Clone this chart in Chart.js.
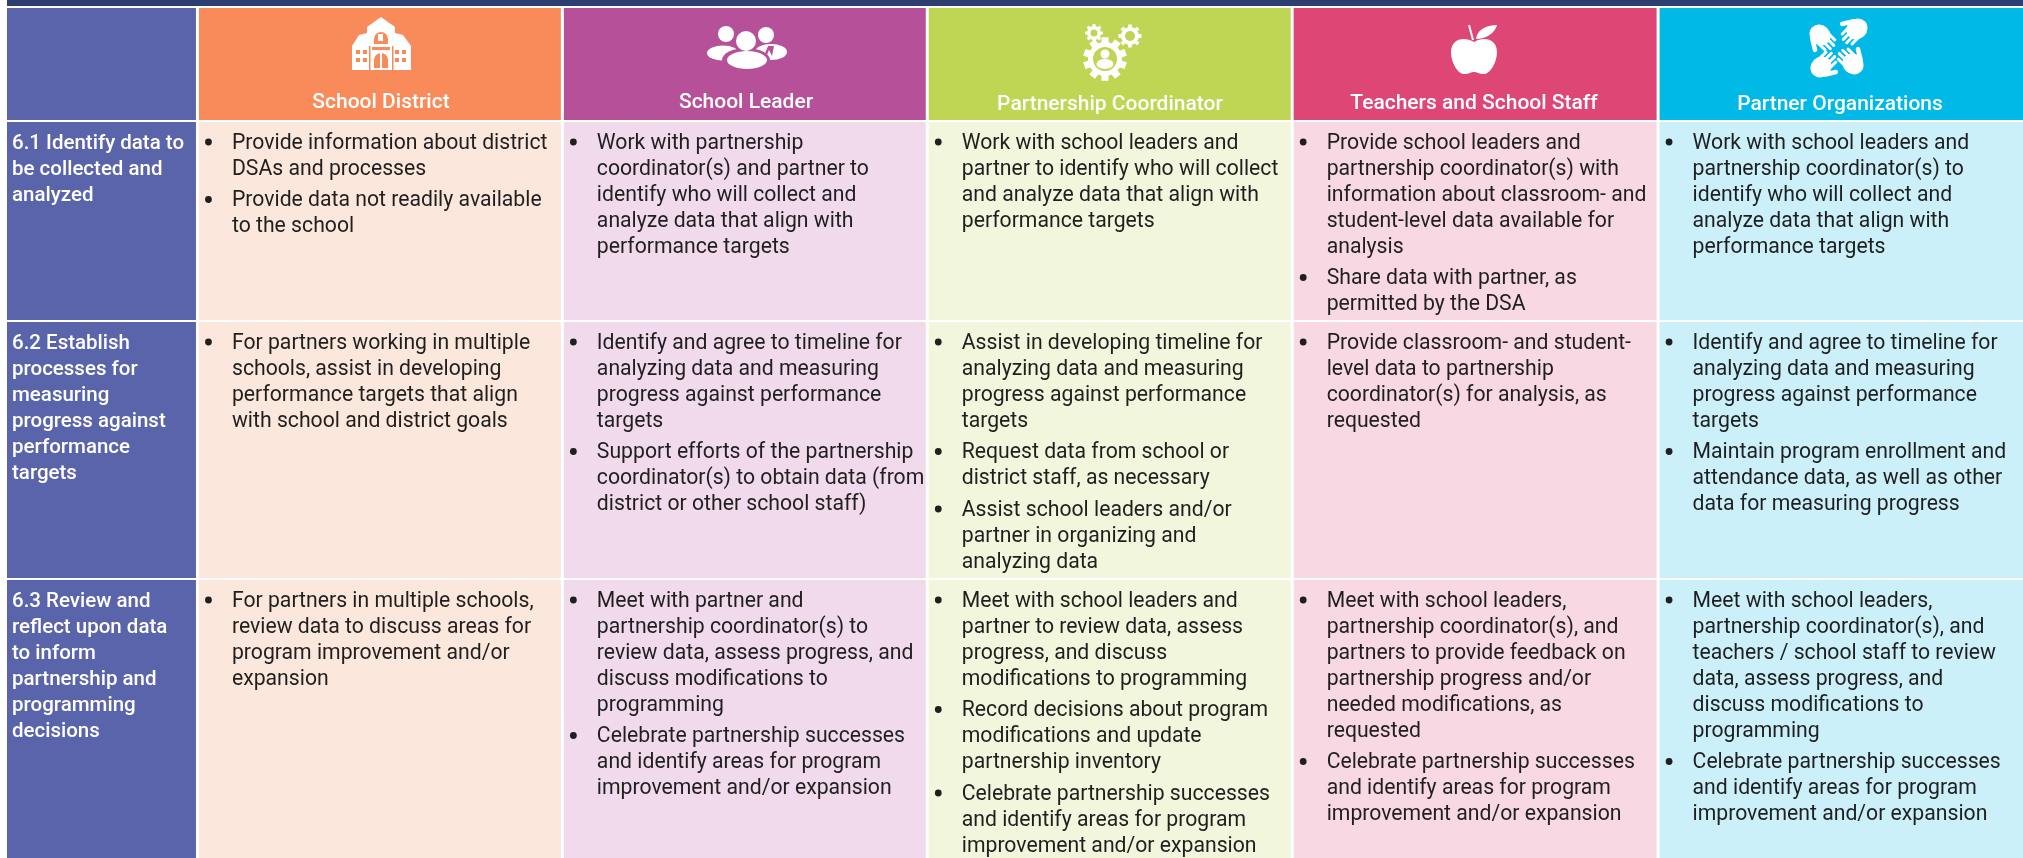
<!DOCTYPE html>
<html>
<head>
<meta charset="utf-8">
<title>Partnership roles</title>
<script src="https://cdn.jsdelivr.net/npm/chart.js@4"></script>
<style>
  html, body { margin: 0; padding: 0; background: #fff; }
  canvas { display: block; }
</style>
</head>
<body>
<canvas id="table-chart" width="2023" height="858"></canvas>
<script>
const columnNames = ['', 'School District', 'School Leader', 'Partnership Coordinator', 'Teachers and School Staff', 'Partner Organizations'];
const columnWidths = [192, 365, 365, 365, 366, 365];
const rowNames = ['band', 'header', '6.1', '6.2', '6.3'];
const rowHeights = [7, 114, 200, 258, 279];

const bandColor = '#2d3f70';
const headerColors = ['#5964aa', '#f98b5a', '#b55099', '#bed654', '#dd4675', '#00b9e6'];
const bodyColors = ['#5964aa', '#fce7dc', '#f0daeb', '#f2f6dc', '#f7d8e3', '#cbf0fa'];

const rowLabels = [
  ['6.1 Identify data to', 'be collected and', 'analyzed'],
  ['6.2 Establish', 'processes for', 'measuring', 'progress against', 'performance', 'targets'],
  ['6.3 Review and', 'reflect upon data', 'to inform', 'partnership and', 'programming', 'decisions'],
];

const row61 = [
  [['Provide information about district', 'DSAs and processes'], ['Provide data not readily available', 'to the school']],
  [['Work with partnership', 'coordinator(s) and partner to', 'identify who will collect and', 'analyze data that align with', 'performance targets']],
  [['Work with school leaders and', 'partner to identify who will collect', 'and analyze data that align with', 'performance targets']],
  [['Provide school leaders and', 'partnership coordinator(s) with', 'information about classroom- and', 'student-level data available for', 'analysis'], ['Share data with partner, as', 'permitted by the DSA']],
  [['Work with school leaders and', 'partnership coordinator(s) to', 'identify who will collect and', 'analyze data that align with', 'performance targets']],
];
const row62 = [
  [['For partners working in multiple', 'schools, assist in developing', 'performance targets that align', 'with school and district goals']],
  [['Identify and agree to timeline for', 'analyzing data and measuring', 'progress against performance', 'targets'], ['Support efforts of the partnership', 'coordinator(s) to obtain data (from', 'district or other school staff)']],
  [['Assist in developing timeline for', 'analyzing data and measuring', 'progress against performance', 'targets'], ['Request data from school or', 'district staff, as necessary'], ['Assist school leaders and/or', 'partner in organizing and', 'analyzing data']],
  [['Provide classroom- and student-', 'level data to partnership', 'coordinator(s) for analysis, as', 'requested']],
  [['Identify and agree to timeline for', 'analyzing data and measuring', 'progress against performance', 'targets'], ['Maintain program enrollment and', 'attendance data, as well as other', 'data for measuring progress']],
];
const row63 = [
  [['For partners in multiple schools,', 'review data to discuss areas for', 'program improvement and/or', 'expansion']],
  [['Meet with partner and', 'partnership coordinator(s) to', 'review data, assess progress, and', 'discuss modifications to', 'programming'], ['Celebrate partnership successes', 'and identify areas for program', 'improvement and/or expansion']],
  [['Meet with school leaders and', 'partner to review data, assess', 'progress, and discuss', 'modifications to programming'], ['Record decisions about program', 'modifications and update', 'partnership inventory'], ['Celebrate partnership successes', 'and identify areas for program', 'improvement and/or expansion']],
  [['Meet with school leaders,', 'partnership coordinator(s), and', 'partners to provide feedback on', 'partnership progress and/or', 'needed modifications, as', 'requested'], ['Celebrate partnership successes', 'and identify areas for program', 'improvement and/or expansion']],
  [['Meet with school leaders,', 'partnership coordinator(s), and', 'teachers / school staff to review', 'data, assess progress, and', 'discuss modifications to', 'programming'], ['Celebrate partnership successes', 'and identify areas for program', 'improvement and/or expansion']],
];
const bodyRows = [row61, row62, row63];

const sum = arr => arr.reduce((a, b) => a + b, 0);
const edges = arr => arr.reduce((acc, v) => [...acc, acc[acc.length - 1] + v], [0]);
const colEdges = edges(columnWidths);
const rowEdges = edges(rowHeights);

// --- Icons, drawn around the middle of each header cell ---
function circle(ctx, x, y, r) {
  ctx.beginPath();
  ctx.arc(x, y, r, 0, Math.PI * 2);
  ctx.fill();
}

function blob(ctx, x, y, rx, ry) {
  ctx.beginPath();
  ctx.ellipse(x, y, rx, ry, 0, 0, Math.PI * 2);
  ctx.fill();
}

function schoolIcon(ctx, cx, bg) {
  ctx.fillStyle = '#fff';
  ctx.beginPath();
  ctx.moveTo(cx, 17);
  ctx.lineTo(cx + 14, 27);
  ctx.lineTo(cx + 14, 33);
  ctx.lineTo(cx + 22, 35);
  ctx.lineTo(cx + 30, 46);
  ctx.lineTo(cx + 30, 70);
  ctx.lineTo(cx - 29, 70);
  ctx.lineTo(cx - 29, 46);
  ctx.lineTo(cx - 22, 35);
  ctx.lineTo(cx - 14, 33);
  ctx.lineTo(cx - 14, 27);
  ctx.closePath();
  ctx.fill();
  ctx.fillStyle = bg;
  // tower window, band, door and wing gaps
  ctx.beginPath();
  ctx.arc(cx, 39, 7, Math.PI, 0);
  ctx.lineTo(cx + 7, 44);
  ctx.lineTo(cx - 7, 44);
  ctx.closePath();
  ctx.fill();
  ctx.fillStyle = '#fff';
  ctx.fillRect(cx - 3, 34, 5, 7);
  ctx.fillStyle = bg;
  ctx.fillRect(cx - 9, 47, 18, 3);
  ctx.beginPath();
  ctx.arc(cx, 60, 7, Math.PI, 0);
  ctx.lineTo(cx + 7, 68);
  ctx.lineTo(cx - 7, 68);
  ctx.closePath();
  ctx.fill();
  ctx.fillStyle = '#fff';
  ctx.fillRect(cx - 1, 52, 2, 16);
  ctx.fillStyle = bg;
  ctx.fillRect(cx - 12, 46, 1.5, 24);
  ctx.fillRect(cx + 11, 46, 1.5, 24);
  for (const wx of [-25, -18, 14, 21]) {
    for (const wy of [50, 58]) ctx.fillRect(cx + wx, wy, 4, 4);
  }
}

function peopleIcon(ctx, cx, bg) {
  ctx.fillStyle = '#fff';
  circle(ctx, cx - 20, 34, 8);
  circle(ctx, cx + 20, 35, 8);
  blob(ctx, cx - 23, 53, 16, 7.5);
  blob(ctx, cx + 25, 52, 16, 8);
  ctx.fillStyle = bg;
  circle(ctx, cx, 41, 12.5);
  blob(ctx, cx, 60, 24, 12);
  ctx.fillStyle = '#fff';
  circle(ctx, cx, 41, 10);
  blob(ctx, cx + 1, 60, 20, 9);
  // tie on the right figure
  ctx.fillStyle = bg;
  ctx.beginPath();
  ctx.moveTo(cx + 22, 46);
  ctx.lineTo(cx + 18, 56);
  ctx.lineTo(cx + 21, 55);
  ctx.lineTo(cx + 23, 50);
  ctx.lineTo(cx + 26, 56);
  ctx.lineTo(cx + 28, 46);
  ctx.closePath();
  ctx.fill();
}

function gear(ctx, x, y, r, teeth, hole, bg) {
  ctx.fillStyle = '#fff';
  ctx.save();
  ctx.translate(x, y);
  for (let i = 0; i < teeth; i++) {
    ctx.save();
    ctx.rotate((i / teeth) * Math.PI * 2);
    const w = r * 0.42;
    ctx.fillRect(-w / 2, -r * 1.28, w, r * 0.5);
    ctx.restore();
  }
  ctx.restore();
  circle(ctx, x, y, r);
  ctx.fillStyle = bg;
  circle(ctx, x, y, hole);
}

function gearsIcon(ctx, cx, bg) {
  gear(ctx, cx - 16, 33, 7, 8, 3.5, bg);
  gear(ctx, cx + 20, 36, 9, 8, 5, bg);
  gear(ctx, cx - 5, 59, 17, 10, 12, bg);
  ctx.fillStyle = '#fff';
  circle(ctx, cx - 5, 54, 4.5);
  blob(ctx, cx - 5, 64, 8.5, 5);
}

function appleIcon(ctx, cx) {
  ctx.fillStyle = '#fff';
  ctx.beginPath();
  ctx.moveTo(cx, 42);
  ctx.bezierCurveTo(cx + 10, 36, cx + 23, 39, cx + 23, 52);
  ctx.bezierCurveTo(cx + 23, 62, cx + 16, 75, cx + 9, 74);
  ctx.bezierCurveTo(cx + 5, 74, cx + 3, 72, cx, 72);
  ctx.bezierCurveTo(cx - 3, 72, cx - 5, 74, cx - 9, 74);
  ctx.bezierCurveTo(cx - 16, 75, cx - 23, 62, cx - 23, 52);
  ctx.bezierCurveTo(cx - 23, 39, cx - 10, 36, cx, 42);
  ctx.closePath();
  ctx.fill();
  // leaf and stem
  ctx.beginPath();
  ctx.moveTo(cx + 2, 39);
  ctx.bezierCurveTo(cx + 3, 30, cx + 12, 25, cx + 23, 25);
  ctx.bezierCurveTo(cx + 21, 33, cx + 12, 39, cx + 2, 39);
  ctx.closePath();
  ctx.fill();
  ctx.strokeStyle = '#fff';
  ctx.lineWidth = 2;
  ctx.beginPath();
  ctx.moveTo(cx - 5, 25);
  ctx.lineTo(cx - 1, 40);
  ctx.stroke();
}

function hand(ctx, x, y, angle) {
  ctx.save();
  ctx.translate(x, y);
  ctx.rotate(angle);
  ctx.fillStyle = '#fff';
  ctx.strokeStyle = '#fff';
  ctx.lineCap = 'round';
  blob(ctx, 0, 0, 10, 11);
  ctx.lineWidth = 3;
  for (const [fx, len] of [[-7, 14], [-2.4, 17], [2.4, 17], [7, 14]]) {
    ctx.beginPath();
    ctx.moveTo(fx, 0);
    ctx.lineTo(fx, -len);
    ctx.stroke();
  }
  ctx.lineWidth = 4.5;
  ctx.beginPath();
  ctx.moveTo(8, 3);
  ctx.lineTo(14, -7);
  ctx.stroke();
  ctx.restore();
}

function handsIcon(ctx, cx) {
  hand(ctx, cx - 20, 35, Math.PI * 0.75);
  hand(ctx, cx + 17, 29, -Math.PI * 0.75);
  hand(ctx, cx - 19, 67, Math.PI * 0.25);
  hand(ctx, cx + 13, 64, -Math.PI * 0.25);
}

const iconDrawers = [null, schoolIcon, peopleIcon, gearsIcon, appleIcon, handsIcon];
const iconCenters = [0, 381, 746, 1110, 1474, 1840];
const headerBaselines = [0, 108, 108, 110, 109, 110];

// --- Text plugin ---
const bodyFont = '400 21.2px Roboto, sans-serif';
const labelFont = '500 20.5px Roboto, sans-serif';
const headerFont = '500 21px Roboto, sans-serif';
const lineStep = 26;
const paraGap = 5.5;

const tableText = {
  id: 'tableText',
  afterDatasetsDraw(chart) {
    const { ctx, scales: { x, y } } = chart;
    ctx.save();
    ctx.textBaseline = 'alphabetic';

    // header row
    columnNames.forEach((name, c) => {
      if (!name) return;
      iconDrawers[c](ctx, iconCenters[c], headerColors[c]);
      ctx.fillStyle = '#fff';
      ctx.font = headerFont;
      ctx.textAlign = 'center';
      ctx.fillText(name, iconCenters[c], headerBaselines[c]);
    });

    // body rows
    ctx.textAlign = 'left';
    bodyRows.forEach((cells, r) => {
      const top = y.getPixelForValue(rowEdges[r + 2]);
      const firstLine = top + 27.5;

      ctx.font = labelFont;
      ctx.fillStyle = '#fff';
      rowLabels[r].forEach((line, i) => {
        ctx.fillText(line, x.getPixelForValue(colEdges[0]) + 6.5, firstLine + i * lineStep);
      });

      cells.forEach((bullets, c) => {
        const left = x.getPixelForValue(colEdges[c + 1]);
        let yy = firstLine;
        ctx.font = bodyFont;
        ctx.fillStyle = '#1f1f1f';
        bullets.forEach(lines => {
          circle(ctx, left + 11, yy - 6.5, 3.4);
          lines.forEach(line => {
            ctx.fillText(line, left + 34.5, yy);
            yy += lineStep;
          });
          yy += paraGap;
        });
      });
    });
    ctx.restore();
  },
};

// --- Cells: one dataset per row, one floating bar per column ---
const cellBorder = (r, c) => {
  if (r === 0) return { top: 0, bottom: 1, left: 1.5, right: 0 };
  return {
    top: 1,
    bottom: r === rowNames.length - 1 ? 0 : 1,
    left: 1.5,
    right: c === columnNames.length - 1 ? 0 : 1.5,
  };
};

const rowCenter = r => rowEdges[r] + rowHeights[r] / 2;

const datasets = rowNames.map((name, r) => ({
  label: name,
  // the band above the table is one long bar, the other rows have a bar per column
  data: r === 0
    ? [{ x: [0, sum(columnWidths)], y: rowCenter(r) }]
    : columnNames.map((_, c) => ({ x: [colEdges[c], colEdges[c + 1]], y: rowCenter(r) })),
  backgroundColor: r === 0 ? bandColor : (r === 1 ? headerColors : bodyColors),
  borderColor: '#fff',
  borderWidth: ctx => cellBorder(r, ctx.dataIndex),
  borderSkipped: false,
  inflateAmount: 0,
  barThickness: rowHeights[r],
  grouped: false,
}));

new Chart(document.getElementById('table-chart'), {
  type: 'bar',
  data: { datasets },
  plugins: [tableText],
  options: {
    indexAxis: 'y',
    responsive: false,
    animation: false,
    layout: { padding: { left: 5.5 } },
    plugins: { legend: { display: false }, tooltip: { enabled: false } },
    scales: {
      x: { type: 'linear', min: 0, max: sum(columnWidths), display: false, grid: { display: false } },
      y: { type: 'linear', min: 0, max: sum(rowHeights), reverse: true, offset: false, display: false, grid: { display: false } },
    },
  },
});
</script>
</body>
</html>
